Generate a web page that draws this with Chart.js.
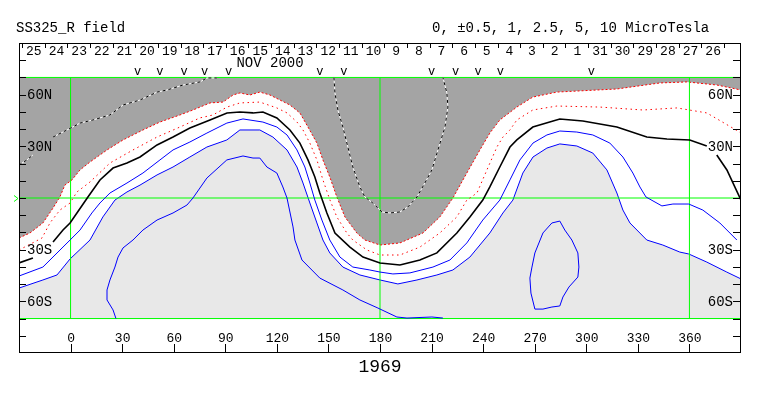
<!DOCTYPE html>
<html><head><meta charset="utf-8">
<script src="https://cdn.jsdelivr.net/npm/chart.js@4/dist/chart.umd.min.js"></script>
<style>html,body{margin:0;padding:0;background:#fff}canvas{display:block}</style>
</head><body>
<canvas id="c" width="763" height="396"></canvas>
<script>
// ---- data (Carrington longitude, latitude in degrees) ----
const zeroLon = [-30,-23.6,-16.1,-10.2,-6.2,-3.3,0.8,5.5,11.3,21.2,30.5,42.1,52.0,63.6,71.2,81.1,88.7,94.5,98.5,104.3,110.1,116.0,121.8,127.6,133.4,138.1,143.3,146.8,150.8,154.9,159.6,166.5,171.2,180.0,191.6,205.0,214.8,222.4,230.5,238.1,243.9,249.7,259.6,268.9,282.9,317.8,342.8,358.5,376.0,390];
const zeroLat = [-23.2,-20.3,-14.5,-5.8,0.6,7.5,10.5,16.3,20.9,27.9,33.7,39.5,44.1,48.2,51.1,55.2,55.7,59.8,61.0,59.8,61.5,59.8,56.9,54.0,49.4,41.2,31.9,22.1,12.2,0.6,-11.0,-20.3,-24.4,-27.3,-26.1,-20.3,-11.0,0,14.5,27.9,37.7,45.3,52.8,58.6,61.5,63.3,66.8,67.4,65.6,62.7];

const halfLon = [-30,-16.6,-12.0,-6.2,-0.3,3.7,11.3,22.9,36.3,50.3,63.6,75.2,82.8,91.0,98.5,110.1,120.0,125.9,131.7,135.2,139.2,143.3,146.8,150.9,154.9,160.7,164.2,172.4,180,191.6,203.2,214.8,224.7,230.5,236.4,242.2,248.0,251.5,255.6,259.6,268.9,282.9,307.9,332.9,352.7,370.1,385.2,390];
const halfLat = [-30.2,-23.2,-14.5,-7.0,-2.9,3.5,9.3,20.3,27.9,35.4,41.2,46.5,48.2,52.8,55.2,55.7,52.3,49.4,44.1,39.5,31.9,22.1,10.5,-1.2,-11.0,-20.3,-24.4,-30.2,-33.1,-33.1,-28.5,-20.3,-11.0,-1.2,2.9,16.3,29.6,35.4,39.5,45.3,51.1,53.4,52.8,51.1,52.3,49.4,40.6,37.7];

const oneLon = [-30,-21.9,-16,-10.2,-4.4,-0.3,3.7,10.1,17.1,24.7,32.8,40.4,50.3,59.6,69.4,81.1,91.0,98.5,106.1,111.9,120.0,127.6,133.4,138.1,142.1,145.0,149.1,153.8,162.5,170.1,180,191.6,203.2,213.1,224.7,232.3,239.8,243.9,249.7,255.6,259.6,268.9,284.6,298.0,317.8,335.2,346.9,360.2,370.1,373,375.9,381.8,390];
const oneLat = [-37.7,-34.8,null,-25.5,-18.6,-14.5,-8.7,0.6,10.5,17.4,20.3,23.8,30.8,35.4,40.6,45.3,49.4,49.9,49.4,49.9,46.5,39.5,31.9,22.1,12.2,2.9,-8.7,-20.3,-28.5,-34.3,-37.7,-38.9,-36.0,-31.9,-20.3,-11.0,-1.2,6.4,18.0,29.6,33.7,41.2,45.9,44.7,41.2,35.4,34.3,33.7,30.2,null,25.0,16.3,-1.2];

const twoFiveLon = [-30,-16.1,-0.3,5.5,12.4,17.1,22.9,32.8,42.1,52.0,59.6,69.4,79.3,90.9,100.3,111.9,120.0,125.9,131.7,136.3,139.2,142.1,146.2,150.8,156.7,164.2,174.1,180,187.5,197.4,210.8,220.7,230.5,239.8,249.7,255.6,261.4,269.0,277.1,284.6,294.5,303.8,313.7,321.3,327.1,331.2,334.7,344.0,350.4,359.6,367.8,377.7,387.6];
const twoFiveLat = [-45.3,-40.1,-24.4,-18.6,-8.7,-2.9,2.9,8.7,14.5,22.1,27.9,32.5,37.7,43.5,45.9,44.1,41.2,36.6,27.9,18.0,8.7,-1.2,-12.8,-24.4,-34.3,-40.1,-41.8,-43.0,-44.1,-43.5,-40.1,-36.0,-26.1,-12.8,-1.2,10.5,22.1,31.9,36.6,38.9,38.3,36.6,31.9,23.8,14.5,6.4,0.6,-4.6,-3.5,-3.5,-7.0,-14.5,-24.4];

const fiveLon = [-30,-16.1,-7.9,-0.3,11.3,18.8,25.8,32.8,40.4,50.3,59.6,69.4,79.3,90.9,98.5,110.1,117.7,125.9,131.7,135.2,139.2,143.3,146.8,150.8,158.4,168.3,180,190.4,201.5,213.1,222.4,232.3,243.9,251.5,257.3,263.1,269.0,277.1,284.6,294.5,303.8,312.0,317.8,321.3,325.4,335.2,344.5,354.4,359.6,370.1,381.7,390];
const fiveLat = [-52.3,-47.6,-44.7,-35.4,-24.4,-11.0,-1.2,3.5,7.5,13.4,18.0,23.8,29.6,33.7,39.5,39.5,35.4,27.9,18.0,8.7,-2.9,-14.5,-24.4,-31.9,-40.1,-44.7,-47.6,-49.9,-47.6,-44.7,-41.8,-34.3,-20.3,-8.7,-1.2,14.5,23.8,29.0,31.4,30.2,26.1,16.3,2.9,-7.0,-14.5,-24.4,-27.3,-31.4,-32.5,-37.2,-43.0,-47.0];

const tenLon = [26.4,24.7,21.2,21.2,22.9,25.8,27.6,30.5,36.3,42.1,50.3,59.6,67.7,71.2,79.3,90.9,100.3,106.1,110.1,114.2,120.0,123.5,125.9,129.4,130.5,134.6,145.0,158.4,168.3,178.8,189.8,195.7,210.2,216.6];
const tenLat = [-70,-65.0,-59.2,-53.4,-47.6,-40.1,-34.3,-29.0,-24.4,-18.6,-12.8,-8.7,-4.1,0,11.6,22.1,24.4,23.2,23.2,18.0,14.5,6.4,0,-16.8,-24.4,-36.0,-46.5,-53.4,-59.2,-63.9,-69.1,-69.7,-69.1,-69.7];

const loopLon = [284.6,280.0,274.8,270.1,268.4,267.2,267.8,270.1,274.8,280.0,284.6,286.4,289.9,295.1,295.7,295.1,291.6,287.5,284.6];
const loopLat = [-13.4,-14.5,-20.3,-31.9,-40.1,-46.5,-55.2,-64.5,-64.5,-63.3,-62.7,-57.5,-51.7,-45.9,-40.1,-31.9,-24.4,-18.6,-13.4];

const negLon = [-30,-25.4,-21.9,-16,-10.2,-2.1,5.5,13.0,22.9,30.5,40.4,50.3,56.1,65.4,75.3,79.3,85.1,120,153.2,153.8,155.5,158.4,161.3,164.2,168.3,171.2,175.8,181.1,185.7,191.6,196.2,201.5,206.1,210.2,213.7,217.8,219.5,218.9,216.6];
const negLat = [19.2,22.1,25.0,null,35.4,39.5,43.5,45.3,48.2,54.0,56.9,61.5,62.7,65.6,67.4,69.7,69.7,null,70,61.0,51.1,41.2,29.6,18.0,6.4,0.6,-2.9,-8.1,-8.7,-8.1,-5.2,0.6,8.7,16.3,27.9,41.2,52.8,61.0,70];

const dayTicks = [-28.3,-15.1,-1.9,11.3,24.4,37.6,50.8,64.0,77.1,90.3,103.5,116.6,129.8,143.0,156.2,169.3,182.5,195.7,208.9,222.0,235.2,248.4,261.5,274.7,287.9,301.1,314.2,327.4,340.6,353.8,366.9,380.1];
const dayLabels = ['25','24','23','22','21','20','19','18','17','16','15','14','13','12','11','10','9','8','7','6','5','4','3','2','1','31','30','29','28','27','26'];
const markLon = [39,52,66,78,92,145,159,210,224,237,250,303];
const lonTicks = [0,30,60,90,120,150,180,210,240,270,300,330,360];
const latTicks = [-80,-70,-60,-50,-40,-30,-20,-10,0,10,20,30,40,50,60,70,80];
const latLabelVals = [60,30,-30,-60];
const latLabelText = ['60N','30N','30S','60S'];
const greenLon = [0,180,360];
const greenLat = [-70,0,70];

// ---- build datasets ----
const pts = (xs, ys) => xs.map((x, i) => ({x: x, y: ys[i]}));
const line = (label, xs, ys, color, extra) => Object.assign({
  label, data: pts(xs, ys), showLine: true, borderColor: color, borderWidth: 1,
  pointRadius: 0, fill: false, tension: 0, spanGaps: false
}, extra || {});

const datasets = [];
datasets.push(line('negative', zeroLon, zeroLat, '#ff0000', {fill: {value: 70}, backgroundColor: '#a4a4a4', borderDash: [2, 2], order: 100}));
datasets.push(line('over5', fiveLon, fiveLat, '#0000ff', {fill: {value: -70}, backgroundColor: '#e8e8e8', order: 99}));
greenLon.forEach(v => datasets.push(line('g', [v, v], [-70, 70], '#00ff00', {order: 50})));
greenLat.forEach(v => datasets.push(line('g', [-30, 390], [v, v], '#00ff00', {order: 50})));
datasets.push(line('neg-w', negLon, negLat, '#ffffff', {order: 20}));
datasets.push(line('neg-k', negLon, negLat, '#000000', {borderDash: [3, 3], order: 19}));
datasets.push(line('half', halfLon, halfLat, '#ff0000', {borderDash: [1.5, 3.5], order: 10}));
datasets.push(line('one', oneLon, oneLat, '#000000', {borderWidth: 1.6, order: 10}));
datasets.push(line('two5', twoFiveLon, twoFiveLat, '#0000ff', {order: 10}));
datasets.push(line('ten', tenLon, tenLat, '#0000ff', {order: 10}));
datasets.push(line('tenloop', loopLon, loopLat, '#0000ff', {order: 10}));

const MONO = '"Liberation Mono", "DejaVu Sans Mono", monospace';

const decor = {
  id: 'decor',
  afterDraw(chart) {
    const ctx = chart.ctx, xs = chart.scales.x, ys = chart.scales.y;
    const px = v => xs.getPixelForValue(v), py = v => ys.getPixelForValue(v);
    const a = chart.chartArea;
    const L = Math.round(a.left), R = Math.round(a.right), T = Math.round(a.top), B = Math.round(a.bottom);
    ctx.save();
    ctx.strokeStyle = '#000'; ctx.lineWidth = 1;
    ctx.strokeRect(L + 0.5, T + 0.5, R - L - 1, B - T - 1);
    ctx.beginPath();
    latTicks.forEach(v => {
      const y = Math.round(py(v)) + 0.5;
      ctx.moveTo(L, y); ctx.lineTo(L + 7, y);
      ctx.moveTo(R - 8, y); ctx.lineTo(R, y);
    });
    lonTicks.forEach(v => {
      const x = Math.round(px(v)) + 0.5;
      ctx.moveTo(x, B - 9); ctx.lineTo(x, B);
    });
    dayTicks.forEach(v => {
      const x = Math.round(px(v)) + 0.5;
      ctx.moveTo(x, T); ctx.lineTo(x, T + 5);
    });
    ctx.stroke();
    // green marker at equator
    ctx.strokeStyle = '#00ff00';
    ctx.beginPath();
    const ye = Math.round(py(0)) + 0.5;
    ctx.moveTo(14, ye - 3); ctx.lineTo(18, ye); ctx.lineTo(14, ye + 3);
    ctx.stroke();

    ctx.fillStyle = '#000';
    // titles
    ctx.font = '14px ' + MONO; ctx.textAlign = 'left'; ctx.textBaseline = 'alphabetic';
    ctx.fillText('SS325_R field', 16, 32);
    ctx.fillText('0, \u00b10.5, 1, 2.5, 5, 10 MicroTesla', 432, 32);
    ctx.textAlign = 'center';
    ctx.fillText('NOV 2000', px(116), 67);
    // day strip
    ctx.font = '13px ' + MONO;
    dayLabels.forEach((t, i) => ctx.fillText(t, (px(dayTicks[i]) + px(dayTicks[i + 1])) / 2 + 0.5, 55));
    // markers
    ctx.font = '12px ' + MONO;
    markLon.forEach(v => ctx.fillText('v', px(v), 75));
    // longitude labels
    ctx.font = '13px ' + MONO;
    lonTicks.forEach(v => ctx.fillText(String(v), px(v) + 0.5, 342));
    // latitude labels
    ctx.font = '14px ' + MONO; ctx.textBaseline = 'middle';
    latLabelVals.forEach((v, i) => {
      ctx.textAlign = 'left'; ctx.fillText(latLabelText[i], L + 8, py(v) + 1);
      ctx.textAlign = 'right'; ctx.fillText(latLabelText[i], R - 8, py(v) + 1);
    });
    // rotation number
    ctx.textAlign = 'center'; ctx.textBaseline = 'alphabetic';
    ctx.font = '18px ' + MONO;
    ctx.fillText('1969', px(180), 372);
    ctx.restore();
  }
};

new Chart(document.getElementById('c'), {
  type: 'scatter',
  data: {datasets},
  options: {
    responsive: false, animation: false, devicePixelRatio: 1,
    layout: {padding: {left: 19, right: 22, top: 43, bottom: 43}},
    scales: {
      x: {type: 'linear', min: -30, max: 390, display: false},
      y: {type: 'linear', min: -90, max: 90, display: false}
    },
    plugins: {legend: {display: false}, tooltip: {enabled: false}, filler: {drawTime: 'beforeDatasetsDraw'}},
    elements: {line: {borderCapStyle: 'butt'}}
  },
  plugins: [decor]
});
</script></body></html>
